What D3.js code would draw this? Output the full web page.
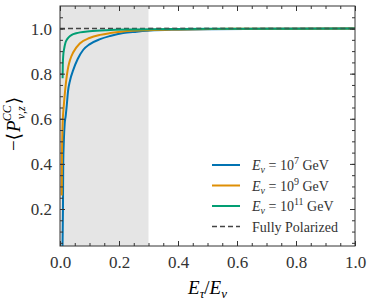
<!DOCTYPE html>
<html>
<head>
<meta charset="utf-8">
<script src="https://cdn.jsdelivr.net/npm/d3@7"></script>
<style>
  body { margin: 0; background: #fff; }
</style>
</head>
<body>
<div id="chart"></div>
<script>
// chart size
const W = 374, H = 302
const margin = {top: 6, right: 19, bottom: 56, left: 60}
const width = W - margin.left - margin.right
const height = H - margin.top - margin.bottom
const serif = "'Liberation Serif', 'DejaVu Serif', serif"

var xrange = [0, 1]
var yrange = [0.036, 1.1]
var xticks = [0, 0.2, 0.4, 0.6, 0.8, 1.0]
var yticks = [0.2, 0.4, 0.6, 0.8, 1.0]
var shadeRange = [0, 0.3]
var polarizedLevel = 1.0

// E_nu = 1e7 GeV
var x7 = [0.0082, 0.0092, 0.010, 0.011, 0.013, 0.016, 0.019, 0.023, 0.027, 0.034, 0.045, 0.06, 0.079, 0.1, 0.136, 0.17, 0.214, 0.26, 0.305, 0.4, 0.5, 0.7, 1.0]
var y7 = [0.0, 0.1, 0.2, 0.4, 0.5, 0.58, 0.61, 0.66, 0.72, 0.77, 0.817, 0.865, 0.906, 0.93, 0.953, 0.967, 0.98, 0.986, 0.991, 0.995, 0.997, 0.999, 1.0]
// E_nu = 1e9 GeV
var x9 = [0.0058, 0.0065, 0.009, 0.013, 0.017, 0.023, 0.028, 0.034, 0.045, 0.068, 0.1, 0.136, 0.17, 0.214, 0.3, 0.4, 0.6, 1.0]
var y9 = [0.26, 0.42, 0.58, 0.66, 0.72, 0.79, 0.83, 0.861, 0.895, 0.935, 0.958, 0.972, 0.98, 0.987, 0.993, 0.996, 0.999, 1.0]
// E_nu = 1e11 GeV
var x11 = [0.0088, 0.0095, 0.011, 0.014, 0.018, 0.023, 0.03, 0.04, 0.055, 0.068, 0.1, 0.158, 0.25, 0.4, 0.6, 1.0]
var y11 = [0.78, 0.84, 0.88, 0.91, 0.935, 0.95, 0.962, 0.972, 0.979, 0.983, 0.988, 0.993, 0.996, 0.998, 0.999, 1.0]

var seriesExp = ["7", "9", "11"]
var colors = ["#0173b2", "#de8f05", "#029e73"]

var series = [
  {exp: seriesExp[0], color: colors[0], pts: x7.map(function(d, i){ return {x: d, y: y7[i]} })},
  {exp: seriesExp[1], color: colors[1], pts: x9.map(function(d, i){ return {x: d, y: y9[i]} })},
  {exp: seriesExp[2], color: colors[2], pts: x11.map(function(d, i){ return {x: d, y: y11[i]} })}
]

var root = d3.select("#chart").append("svg")
  .attr("width", W)
  .attr("height", H)
  .style("font-family", serif)
var svg = root.append("g")
  .attr("transform", "translate(" + margin.left + "," + margin.top + ")")

var x = d3.scaleLinear().domain(xrange).range([0, width])
var y = d3.scaleLinear().domain(yrange).range([height, 0])

svg.append("clipPath").attr("id", "clip")
  .append("rect").attr("width", width).attr("height", height)

// shaded region
svg.append("rect")
  .attr("x", x(shadeRange[0]))
  .attr("y", 0)
  .attr("width", x(shadeRange[1]) - x(shadeRange[0]))
  .attr("height", height)
  .attr("fill", "#e5e5e5")

// fully polarized line
svg.append("line")
  .attr("x1", x(xrange[0])).attr("x2", x(xrange[1]))
  .attr("y1", y(polarizedLevel)).attr("y2", y(polarizedLevel))
  .attr("stroke", "#444")
  .attr("stroke-width", 1.5)
  .attr("stroke-dasharray", "5,3")

var line = d3.line()
  .curve(d3.curveMonotoneX)
  .x(function(d) { return x(d.x) })
  .y(function(d) { return y(d.y) })

series.forEach(function(s) {
  svg.append("path")
    .datum(s.pts)
    .attr("clip-path", "url(#clip)")
    .attr("fill", "none")
    .attr("stroke", s.color)
    .attr("stroke-width", 2)
    .attr("d", line)
})

// dash shows through on top of the curves near 1
svg.append("line")
  .attr("x1", x(0.3)).attr("x2", x(xrange[1]))
  .attr("y1", y(polarizedLevel)).attr("y2", y(polarizedLevel))
  .attr("stroke", "#444")
  .attr("stroke-width", 1.5)
  .attr("stroke-dasharray", "5,3")
  .attr("opacity", 0.6)

// ticks, all inward on four sides
var xminor = d3.range(0, 1.0001, 0.05)
var yminor = d3.range(0.05, 1.1, 0.05)

function addTicks(axisFn, scale, major, minor, transform, showLabels) {
  svg.append("g").attr("transform", transform)
    .call(axisFn(scale).tickValues(minor).tickSize(-3).tickFormat(""))
  var g = svg.append("g").attr("transform", transform)
    .call(axisFn(scale).tickValues(major).tickSize(-5).tickPadding(7)
      .tickFormat(showLabels ? d3.format(".1f") : ""))
  return g
}

var gx = addTicks(d3.axisBottom, x, xticks, xminor, "translate(0," + height + ")", true)
addTicks(d3.axisTop, x, xticks, xminor, "translate(0,0)", false)
var gy = addTicks(d3.axisLeft, y, yticks, yminor, "translate(0,0)", true)
addTicks(d3.axisRight, y, yticks, yminor, "translate(" + width + ",0)", false)

svg.selectAll(".domain").remove()
svg.selectAll(".tick line").attr("stroke", "#333")
gx.selectAll("text").style("font-size", "17px").attr("dy", "0.75em").attr("fill", "#333")
gy.selectAll("text").style("font-size", "17px").attr("dx", "-1px").attr("dy", "0.35em").attr("fill", "#333")
gx.selectAll(".tick text").attr("y", 9)

// frame
svg.append("rect")
  .attr("width", width).attr("height", height)
  .attr("fill", "none").attr("stroke", "#333").attr("stroke-width", 1)

// x label
var xl = svg.append("text")
  .attr("x", width / 2).attr("y", height + 48)
  .attr("text-anchor", "middle")
  .style("font-size", "19px").style("font-style", "italic")
xl.append("tspan").text("E")
xl.append("tspan").text("τ").attr("dy", 4).style("font-size", "13px")
xl.append("tspan").text("/").attr("dy", -4).style("font-style", "normal")
xl.append("tspan").text("E")
xl.append("tspan").text("ν").attr("dy", 4).style("font-size", "13px")

// y label
var yl = svg.append("text")
  .attr("transform", "translate(-40," + (height / 2 - 2) + ") rotate(-90)")
  .attr("text-anchor", "middle")
  .style("font-size", "19px")
yl.append("tspan").text("−⟨")
yl.append("tspan").text("P").style("font-style", "italic").attr("dx", 1)
yl.append("tspan").text("ν,z").attr("dy", 5).attr("dx", 1).style("font-size", "12px").style("font-style", "italic")
yl.append("tspan").text("CC").attr("dy", -14).attr("dx", -15).style("font-size", "12px").style("font-style", "italic")
yl.append("tspan").text("⟩").attr("dy", 9).attr("dx", 1)

// legend
var legX = 152, legY = 159, legStep = 20.5
series.forEach(function(s, i) {
  var ly = legY + i * legStep
  svg.append("line")
    .attr("x1", legX).attr("x2", legX + 28)
    .attr("y1", ly).attr("y2", ly)
    .attr("stroke", s.color).attr("stroke-width", 2)
  var t = svg.append("text").attr("x", legX + 40).attr("y", ly + 5)
    .style("font-size", "14px").attr("fill", "#333")
  t.append("tspan").text("E").style("font-style", "italic")
  t.append("tspan").text("ν").attr("dy", 3).style("font-size", "10px").style("font-style", "italic")
  t.append("tspan").text(" = 10").attr("dy", -3)
  t.append("tspan").text(s.exp).attr("dy", -6).style("font-size", "10px")
  t.append("tspan").text(" GeV").attr("dy", 6)
})
var ly4 = legY + 3 * legStep
svg.append("line")
  .attr("x1", legX).attr("x2", legX + 28)
  .attr("y1", ly4).attr("y2", ly4)
  .attr("stroke", "#444").attr("stroke-width", 1.5).attr("stroke-dasharray", "5,3")
svg.append("text").attr("x", legX + 40).attr("y", ly4 + 5)
  .style("font-size", "14px").attr("fill", "#333").text("Fully Polarized")

// make sure every label uses the serif face (axis sets its own font-family)
root.selectAll("text").attr("font-family", serif).style("font-family", serif)
</script>
</body>
</html>
